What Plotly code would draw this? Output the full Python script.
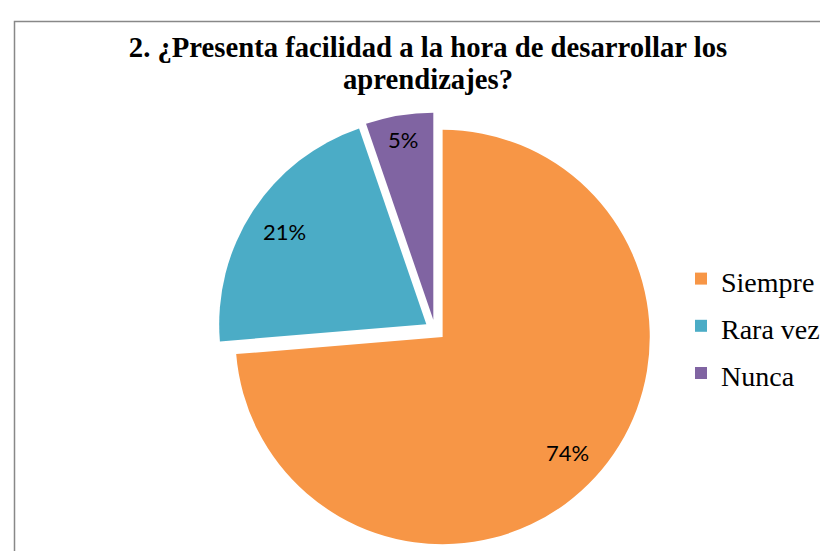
import math
import plotly.graph_objects as go

categories = ["Siempre", "Rara vez", "Nunca"]
values = [14, 4, 1]
colors = ["#F79646", "#4BACC6", "#8064A2"]
title_lines = ["2. ¿Presenta facilidad a la hora de desarrollar los", "aprendizajes?"]

W, H = 828, 551
PULL = 0.05
PIE_CX, PIE_CY, PIE_SIZE = 427.0, 322.0, 435.0   # pixel centre / domain size
LABEL_R = [0.87, 0.87, 0.93]

x0 = (PIE_CX - PIE_SIZE / 2) / W
x1 = (PIE_CX + PIE_SIZE / 2) / W
y0 = (H - (PIE_CY + PIE_SIZE / 2)) / H
y1 = (H - (PIE_CY - PIE_SIZE / 2)) / H

fig = go.Figure()
fig.add_trace(go.Pie(
    labels=[f"<span style='font-size:28px'>{c}</span>" for c in categories],
    values=values,
    marker=dict(colors=colors, line=dict(width=0)),
    sort=False,
    direction="clockwise",
    rotation=0,
    pull=[PULL] * len(values),
    textinfo="none",
    domain=dict(x=[x0, x1], y=[y0, y1]),
    hoverinfo="label+percent",
))

# percentage labels placed along each slice's mid-angle
total = sum(values)
r = PIE_SIZE / 2 / (1 + PULL)
annotations = []
cum = 0
for v, lr in zip(values, LABEL_R):
    mid = (cum + v / 2) / total
    cum += v
    th = 2 * math.pi * mid
    px = PIE_CX + lr * r * math.sin(th)
    py = PIE_CY - lr * r * math.cos(th)
    annotations.append(dict(
        x=px / W, y=(H - py) / H, xref="paper", yref="paper",
        text=f"{round(100 * v / total)}%", showarrow=False,
        font=dict(family="Lato", size=22, color="#000000"),
        xanchor="center", yanchor="middle",
    ))

fig.update_layout(
    width=W, height=H,
    margin=dict(l=0, r=0, t=0, b=0),
    paper_bgcolor="white",
    plot_bgcolor="white",
    title=dict(
        text="<br>".join(f"<span style='font-size:28.7px'>{t}</span>" for t in title_lines),
        x=420 / W, xanchor="center",
        y=1 - 49 / H, yanchor="top",
        font=dict(family="Liberation Serif", size=24.5, color="#000000", weight="bold"),
    ),
    legend=dict(
        x=673 / W, xanchor="left",
        y=(H - 318) / H, yanchor="middle",
        font=dict(family="Liberation Serif", size=34, color="#000000"),
        bgcolor="rgba(0,0,0,0)",
    ),
    showlegend=True,
    annotations=annotations,
    shapes=[dict(
        type="rect", xref="paper", yref="paper",
        x0=6.5 / W, x1=1.2, y0=-0.2, y1=1 - 13.5 / H,
        line=dict(color="#888888", width=1.5),
        fillcolor="rgba(0,0,0,0)",
        layer="above",
    )],
)

fig.write_html("out.html")
